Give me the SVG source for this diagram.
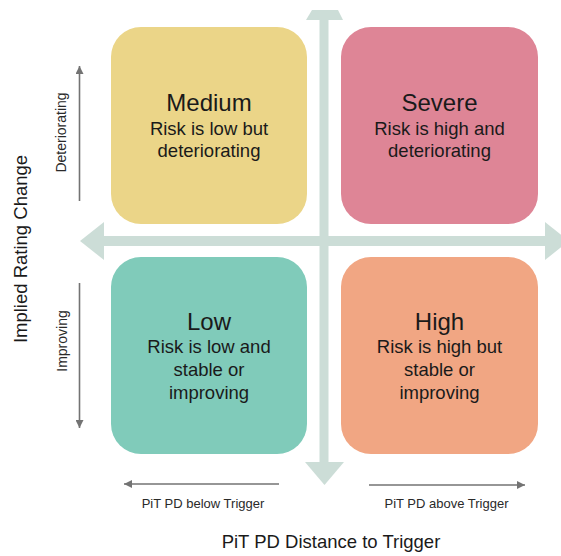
<svg xmlns="http://www.w3.org/2000/svg" width="561" height="556" viewBox="0 0 561 556">
  <defs>
    <style>
      .t { font-family: "Liberation Sans", Arial, sans-serif; fill: #1a1a1a; text-anchor: middle; }
      .title { font-size: 24px; }
      .desc { font-size: 18.5px; }
      .axis { fill: #CCDDD7; }
      .garrow { stroke: #737373; stroke-width: 1.6; fill: none; marker-end: url(#ah); }
      .small { font-size: 13px; fill: #2a2a2a; }
      .side { font-size: 14px; fill: #2a2a2a; }
      .big { font-size: 18.5px; }
    </style>
    <marker id="ah" viewBox="0 0 10 10" refX="10" refY="5" markerWidth="9" markerHeight="8" markerUnits="userSpaceOnUse" orient="auto">
      <path d="M0,0 L10,5 L0,10 z" fill="#737373"/>
    </marker>
  </defs>
  <rect width="561" height="556" fill="#ffffff"/>

  <g id="connectors">
    <!-- main axes -->
    <rect class="axis" x="103" y="236" width="444" height="10"/>
    <polygon class="axis" points="80,241 104,222 104,260"/>
    <polygon class="axis" points="545,222 545,260 569,241"/>
    <rect class="axis" x="319.5" y="19" width="9" height="444"/>
    <polygon class="axis" points="306,20 312,10 338,10 343,20"/>
    <polygon class="axis" points="305,462 344,462 324.5,485"/>
    <!-- gray direction arrows -->
    <line class="garrow" x1="79.5" y1="201" x2="79.5" y2="66"/>
    <line class="garrow" x1="79.5" y1="283" x2="79.5" y2="428"/>
    <line class="garrow" x1="279" y1="484" x2="124" y2="484"/>
    <line class="garrow" x1="369" y1="485" x2="525" y2="485"/>
  </g>

  <g id="medium">
    <rect x="111" y="27" width="196" height="197" rx="30" fill="#EBD588"/>
    <text class="t title" x="209" y="111">Medium</text>
    <text class="t desc" x="209" y="134.5">Risk is low but</text>
    <text class="t desc" x="209" y="157">deteriorating</text>
  </g>

  <g id="severe">
    <rect x="341" y="27" width="197" height="197" rx="30" fill="#DE8596"/>
    <text class="t title" x="439.5" y="111">Severe</text>
    <text class="t desc" x="439.5" y="134.5">Risk is high and</text>
    <text class="t desc" x="439.5" y="157">deteriorating</text>
  </g>

  <g id="low">
    <rect x="111" y="257" width="196" height="197" rx="30" fill="#80CBBA"/>
    <text class="t title" x="209" y="329.5">Low</text>
    <text class="t desc" x="209" y="353">Risk is low and</text>
    <text class="t desc" x="209" y="376">stable or</text>
    <text class="t desc" x="209" y="398.5">improving</text>
  </g>

  <g id="high">
    <rect x="341" y="257" width="197" height="197" rx="30" fill="#F1A683"/>
    <text class="t title" x="439.5" y="329.5">High</text>
    <text class="t desc" x="439.5" y="353">Risk is high but</text>
    <text class="t desc" x="439.5" y="376">stable or</text>
    <text class="t desc" x="439.5" y="398.5">improving</text>
  </g>

  <g id="labels">
    <text class="t big" transform="translate(27,249) rotate(-90)">Implied Rating Change</text>
    <text class="t side" transform="translate(66,132.5) rotate(-90)">Deteriorating</text>
    <text class="t side" transform="translate(67,341) rotate(-90)">Improving</text>
    <text class="t small" x="203" y="507.5">PiT PD below Trigger</text>
    <text class="t small" x="446.5" y="507.5">PiT PD above Trigger</text>
    <text class="t big" x="331" y="548">PiT PD Distance to Trigger</text>
  </g>
</svg>
